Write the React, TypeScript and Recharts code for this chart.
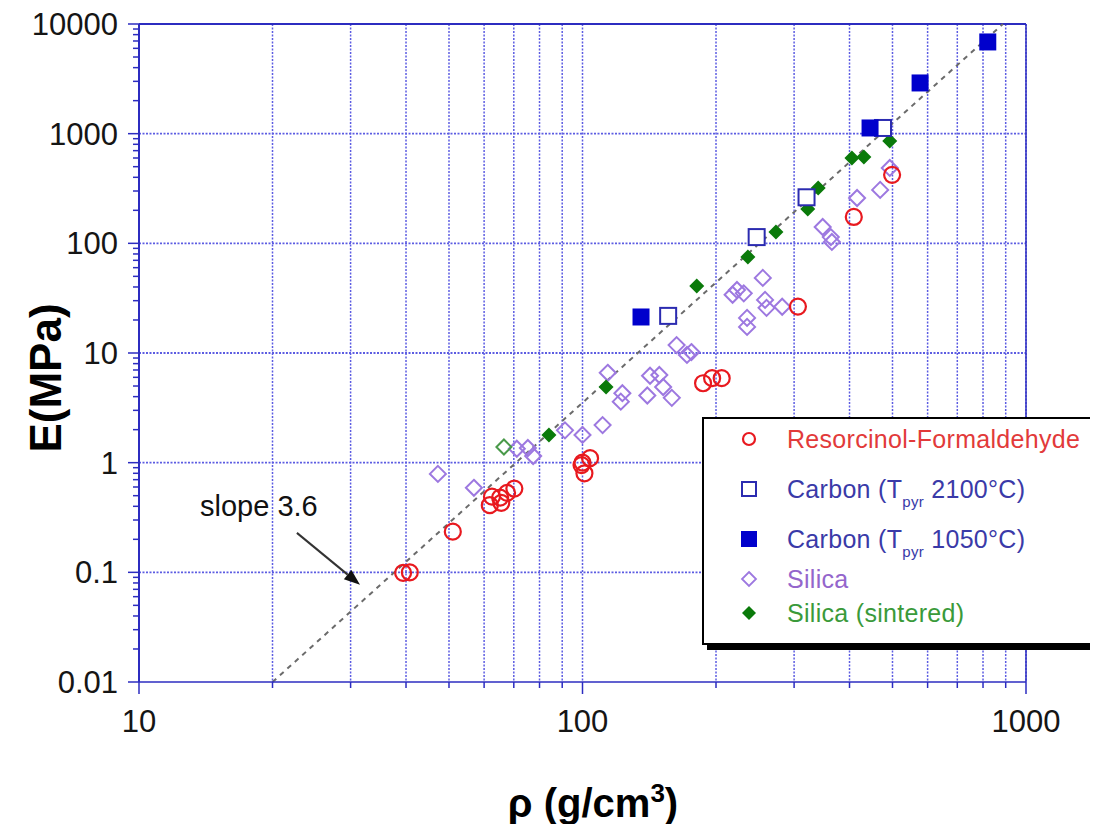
import React from 'react';
import { ScatterChart, Scatter, XAxis, YAxis, CartesianGrid, ReferenceLine } from 'recharts';

// tick labels (decades only, minors are derived from them)
const X_TICK_LABELS = ['10', '100', '1000'];
const Y_TICK_LABELS = ['0.01', '0.1', '1', '10', '100', '1000', '10000'];

// [density g/cm3, modulus MPa]
const resorcinol = [
    [39.4, 0.099], [40.8, 0.1], [51, 0.235], [61.8, 0.41], [62.5, 0.49], [65.2, 0.48],
    [65.6, 0.43], [67.6, 0.53], [70.2, 0.58], [99.5, 0.95], [100, 1.0], [101, 0.8],
    [104, 1.1], [187, 5.3], [196, 5.9], [206, 5.9], [306, 26.5], [409, 174], [499, 421],
];
const carbon2100 = [[156, 21.8], [247, 114], [320, 263], [476, 1127]];
const carbon1050 = [[135.5, 21.3], [445, 1127], [577, 2900], [820, 6860]];
const silica = [
    [47.2, 0.79], [56.9, 0.59], [71.1, 1.34], [75.3, 1.36], [77.4, 1.15], [91.3, 1.97],
    [100, 1.79], [111, 2.2], [114, 6.6], [122, 3.6], [123, 4.3], [140, 4.1], [142, 6.2],
    [149, 6.3], [152, 4.9], [159, 3.9], [163, 11.8], [172, 9.6], [176, 10.2], [218, 34],
    [223, 37.6], [231, 35], [235, 20.9], [235, 17.3], [255, 48.4], [258, 30.5], [260, 25.8],
    [282, 26.4], [348, 141], [363, 114], [365, 103], [416, 259], [469, 307], [493, 487],
];
const silicaSintered = [
    [84, 1.79], [113, 4.9], [181, 40.9], [236, 75.2], [273, 127], [322, 206], [340, 320],
    [405, 600], [431, 614], [493, 857],
];
const silicaSinteredOpen = [[66.5, 1.39]];

// fitted line and the arrow of the "slope 3.6" note
const slopeLine = [[20, 0.01], [887, 10000]];
const slopeArrow = [[22.7, 0.229], [31.5, 0.077]];

const LEGEND = [
    { name: 'Resorcinol-Formaldehyde', key: 'rf' },
    { name: 'Carbon (T', sub: 'pyr', after: ' 2100°C)', key: 'c2100' },
    { name: 'Carbon (T', sub: 'pyr', after: ' 1050°C)', key: 'c1050' },
    { name: 'Silica', key: 'si' },
    { name: 'Silica (sintered)', key: 'sis' },
];

const toPts = (a: number[][]) => a.map(([x, y]) => ({ x, y }));
const withMinors = (labels: string[]) =>
    labels
        .slice(0, -1)
        .flatMap((l) => [1, 2, 3, 4, 5, 6, 7, 8, 9].map((m) => +(m * Number(l)).toPrecision(3)))
        .concat(Number(labels[labels.length - 1]));
const isDecade = (v: number) => Math.abs(Math.log10(v) - Math.round(Math.log10(v))) < 1e-6;

const FONT = 'Arial, "Liberation Sans", Helvetica, sans-serif';
const AXIS = '#2c2cc0';
const GRID = '#5c5ce2';
const RED = '#e8191f';
const BLUE_OPEN = '#2b2bb0';
const BLUE = '#0000cc';
const PURPLE = '#9d78e0';
const GREEN = '#0a7a0a';

const XTick = (props: any) => {
    const { x, y, payload } = props;
    const major = isDecade(payload.value);
    return (
        <g>
            <line x1={x} x2={x} y1={y} y2={y + (major ? 12 : 6)} stroke={AXIS} strokeWidth={1.5} />
            {major && (
                <text x={x} y={y + 50} textAnchor="middle" fontSize={31} fontFamily={FONT} fill="#151515">
                    {payload.value}
                </text>
            )}
        </g>
    );
};

const YTick = (props: any) => {
    const { x, y, payload } = props;
    const major = isDecade(payload.value);
    return (
        <g>
            <line x1={x - (major ? 11 : 6)} x2={x} y1={y} y2={y} stroke={AXIS} strokeWidth={1.5} />
            {major && (
                <text x={x - 21} y={y + 11} textAnchor="end" fontSize={31} fontFamily={FONT} fill="#151515">
                    {payload.value}
                </text>
            )}
        </g>
    );
};

const OpenCircle = (p: any) => <circle cx={p.cx} cy={p.cy} r={8} fill="none" stroke={RED} strokeWidth={2.2} />;
const OpenSquare = (p: any) => (
    <rect x={p.cx - 8} y={p.cy - 8} width={16} height={16} fill="#fff" stroke={BLUE_OPEN} strokeWidth={2} />
);
const FilledSquare = (p: any) => <rect x={p.cx - 8.5} y={p.cy - 8.5} width={17} height={17} fill={BLUE} />;
const diamond = (cx: number, cy: number, r: number) =>
    `${cx},${cy - r} ${cx + r},${cy} ${cx},${cy + r} ${cx - r},${cy}`;
const OpenDiamond = (p: any) => (
    <polygon points={diamond(p.cx, p.cy, 8)} fill="none" stroke={PURPLE} strokeWidth={2} />
);
const FilledDiamond = (p: any) => <polygon points={diamond(p.cx, p.cy, 7.5)} fill={GREEN} />;
const OpenGreenDiamond = (p: any) => (
    <polygon points={diamond(p.cx, p.cy, 7.5)} fill="none" stroke="#4a9a4a" strokeWidth={2} />
);

const Arrow = (p: any) => {
    const { x1, y1, x2, y2 } = p;
    const a = Math.atan2(y2 - y1, x2 - x1);
    const len = 16;
    const w = 6;
    const bx = x2 - len * Math.cos(a);
    const by = y2 - len * Math.sin(a);
    const pts = `${x2},${y2} ${bx + w * Math.sin(a)},${by - w * Math.cos(a)} ${bx - w * Math.sin(a)},${by + w * Math.cos(a)}`;
    return (
        <g>
            <line x1={x1} y1={y1} x2={bx} y2={by} stroke="#333" strokeWidth={2} />
            <polygon points={pts} fill="#111" />
        </g>
    );
};

const LegendMarker = ({ k }: { k: string }) => (
    <svg width={20} height={20} style={{ overflow: 'visible' }}>
        {k === 'rf' && <circle cx={10} cy={10} r={6} fill="none" stroke={RED} strokeWidth={2.2} />}
        {k === 'c2100' && <rect x={3} y={3} width={14} height={14} fill="#fff" stroke={BLUE_OPEN} strokeWidth={2} />}
        {k === 'c1050' && <rect x={2} y={2} width={16} height={16} fill={BLUE} />}
        {k === 'si' && <polygon points={diamond(10, 10, 7)} fill="none" stroke={PURPLE} strokeWidth={1.8} />}
        {k === 'sis' && <polygon points={diamond(10, 10, 7)} fill={GREEN} />}
    </svg>
);

const LEGEND_COLORS: Record<string, string> = {
    rf: '#e23a3a',
    c2100: '#3a3aa8',
    c1050: '#3a3aa8',
    si: '#9466cc',
    sis: '#3a9a3a',
};
const ROW_TOPS = [20, 70, 120, 160, 194];

function LegendBox() {
    return (
        <div
            style={{
                position: 'absolute',
                left: 694,
                top: 409,
                width: 386,
                height: 224,
                border: '2px solid #000',
                boxShadow: '5px 5px 0 #000',
                background: '#fff',
                fontFamily: FONT,
                fontSize: 25,
            }}
        >
            {LEGEND.map((e, i) => (
                <div
                    key={e.key}
                    style={{
                        position: 'absolute',
                        left: 35,
                        top: ROW_TOPS[i] - 15,
                        height: 30,
                        display: 'flex',
                        alignItems: 'center',
                        color: LEGEND_COLORS[e.key],
                        whiteSpace: 'nowrap',
                    }}
                >
                    <LegendMarker k={e.key} />
                    <span style={{ marginLeft: 28, letterSpacing: 0.3 }}>
                        {e.name}
                        {e.sub && (
                            <sub style={{ fontSize: 15, position: 'relative', top: 9, verticalAlign: 'baseline' }}>{e.sub}</sub>
                        )}
                        {e.after}
                    </span>
                </div>
            ))}
        </div>
    );
}

export default function App() {
    const xTicks = withMinors(X_TICK_LABELS);
    const yTicks = withMinors(Y_TICK_LABELS);
    const yMajors = Y_TICK_LABELS.map(Number);

    return (
        <div style={{ position: 'relative', width: 1090, height: 816, background: '#fff' }}>
            <ScatterChart width={1090} height={816} margin={{ top: 16, right: 72, bottom: 82, left: 51 }}>
                <CartesianGrid horizontal={false} stroke={GRID} strokeDasharray="2 1.5" strokeWidth={1.5} />
                {yMajors.slice(1, -1).map((v) => (
                    <ReferenceLine key={v} y={v} stroke={GRID} strokeDasharray="2 1.5" strokeWidth={1.8} />
                ))}
                <ReferenceLine y={10000} stroke={AXIS} strokeWidth={2} />
                <ReferenceLine x={1000} stroke={AXIS} strokeWidth={1.5} />
                <XAxis
                    type="number"
                    dataKey="x"
                    scale="log"
                    domain={[10, 1000]}
                    ticks={xTicks}
                    interval={0}
                    allowDataOverflow
                    height={60}
                    tickSize={0}
                    tickMargin={0}
                    tickLine={false}
                    tick={<XTick />}
                    axisLine={{ stroke: AXIS, strokeWidth: 1.5 }}
                />
                <YAxis
                    type="number"
                    dataKey="y"
                    scale="log"
                    domain={[0.01, 10000]}
                    ticks={yTicks}
                    interval={0}
                    allowDataOverflow
                    width={80}
                    tickSize={0}
                    tickMargin={0}
                    tickLine={false}
                    tick={<YTick />}
                    axisLine={{ stroke: AXIS, strokeWidth: 2 }}
                />
                <ReferenceLine segment={toPts(slopeLine)} stroke="#6b6b6b" strokeWidth={2} strokeDasharray="5 5" />
                <ReferenceLine segment={toPts(slopeArrow)} shape={<Arrow />} />
                <Scatter name="Silica" data={toPts(silica)} shape={<OpenDiamond />} isAnimationActive={false} />
                <Scatter name="Resorcinol-Formaldehyde" data={toPts(resorcinol)} shape={<OpenCircle />} isAnimationActive={false} />
                <Scatter name="Silica (sintered) open" data={toPts(silicaSinteredOpen)} shape={<OpenGreenDiamond />} legendType="none" isAnimationActive={false} />
                <Scatter name="Silica (sintered)" data={toPts(silicaSintered)} shape={<FilledDiamond />} isAnimationActive={false} />
                <Scatter name="Carbon (Tpyr 2100°C)" data={toPts(carbon2100)} shape={<OpenSquare />} isAnimationActive={false} />
                <Scatter name="Carbon (Tpyr 1050°C)" data={toPts(carbon1050)} shape={<FilledSquare />} isAnimationActive={false} />
            </ScatterChart>

            <div
                style={{
                    position: 'absolute',
                    left: 192,
                    top: 482,
                    fontFamily: FONT,
                    fontSize: 29,
                    color: '#111',
                    whiteSpace: 'nowrap',
                }}
            >
                slope 3.6
            </div>

            <div
                style={{
                    position: 'absolute',
                    left: 38,
                    top: 370,
                    transform: 'translate(-50%, -50%) rotate(-90deg)',
                    fontFamily: FONT,
                    fontWeight: 'bold',
                    fontSize: 44,
                    color: '#000',
                    whiteSpace: 'nowrap',
                }}
            >
                E(MPa)
            </div>

            <div
                style={{
                    position: 'absolute',
                    left: 585,
                    top: 795,
                    transform: 'translate(-50%, -50%)',
                    fontFamily: FONT,
                    fontWeight: 'bold',
                    fontSize: 40,
                    color: '#000',
                    whiteSpace: 'nowrap',
                }}
            >
                ρ (g/cm<sup style={{ fontSize: 26, verticalAlign: 'baseline', position: 'relative', top: -15 }}>3</sup>)
            </div>

            <LegendBox />
        </div>
    );
}
